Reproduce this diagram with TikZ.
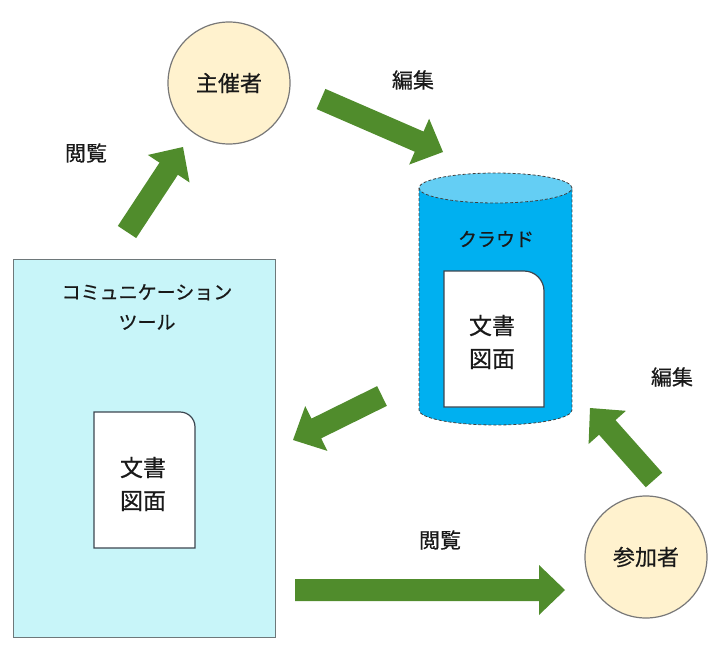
\documentclass[tikz,border=0pt]{standalone}
\usepackage{fontspec}
\setmainfont{Noto Sans CJK JP}[FakeBold=0.6]
\usetikzlibrary{calc}
\definecolor{agreen}{RGB}{80,140,44}
\definecolor{cfill}{RGB}{255,242,206}
\definecolor{cedge}{RGB}{120,120,120}
\definecolor{tfill}{RGB}{200,245,249}
\definecolor{tedge}{RGB}{110,120,122}
\definecolor{cyl}{RGB}{0,176,240}
\definecolor{cyltop}{RGB}{100,206,244}
\definecolor{docedge}{RGB}{60,70,80}
\definecolor{txt}{RGB}{25,25,25}
\newcommand\blockarrow[2]{%
  \coordinate (ba-h) at ($(#2)!26pt!(#1)$);
  \fill[agreen] ($(#1)!11pt!90:(#2)$) -- ($(ba-h)!11pt!-90:(#1)$) -- ($(ba-h)!25pt!-90:(#1)$) -- (#2) -- ($(ba-h)!25pt!90:(#1)$) -- ($(ba-h)!11pt!90:(#1)$) -- ($(#1)!11pt!-90:(#2)$) -- cycle;}
\begin{document}
\begin{tikzpicture}[x=1pt,y=-1pt,
  actor/.style={circle, draw=cedge, line width=1.2pt, fill=cfill, minimum size=122pt, inner sep=0pt, font=\fontsize{22}{26}\selectfont, text=txt},
  lbl/.style={font=\fontsize{21}{25}\selectfont, text=txt},
  doctxt/.style={font=\fontsize{23}{33}\selectfont, text=txt, align=center},
  kata/.style={font=\fontsize{19}{30}\selectfont, text=txt, align=center},
  docshape/.style={draw=docedge, line width=1.2pt, fill=white},
  cyldash/.style={draw=black!75, densely dashed, line width=0.8pt}]
\useasboundingbox (0,0) rectangle (711,647);

% communication tool
\node[draw=tedge, line width=1.2pt, fill=tfill, minimum width=262pt, minimum height=378pt, anchor=north west, inner sep=0pt] (tool) at (13,259) {};
\node[kata] (toollabel) at (147,307) {コミュニケーション\\ツール};
\draw[docshape] (94,548) -- (94,412) -- (180,412) arc[start angle=90, end angle=0, radius=15pt] -- (195,548) -- cycle;
\node[doctxt] (tooldoc) at (143,484) {文書\\図面};

% cloud cylinder
\fill[cyl] (419,188) rectangle (572,410);
\fill[cyl] (495.5,410) ellipse[x radius=76.5pt, y radius=15pt];
\fill[cyltop] (495.5,188) ellipse[x radius=76.5pt, y radius=15pt];
\draw[cyldash] (495.5,188) ellipse[x radius=76.5pt, y radius=15pt];
\draw[cyldash] (419,188) -- (419,410) arc[start angle=180, end angle=360, x radius=76.5pt, y radius=15pt] -- (572,188);
\node[kata] (cloud) at (496,239) {クラウド};
\draw[docshape] (444,407) -- (444,271) -- (524,271) arc[start angle=90, end angle=0, radius=20pt] -- (544,407) -- cycle;
\node[doctxt] (clouddoc) at (492,342) {文書\\図面};

% actors
\node[actor] (host) at (229,83) {主催者};
\node[actor] (guest) at (646,557) {参加者};

% arrows
\coordinate (a1t) at (127,232); \coordinate (a1h) at (183,147);
\coordinate (a2t) at (321,99);  \coordinate (a2h) at (443,152);
\coordinate (a3t) at (382,396); \coordinate (a3h) at (293,440);
\coordinate (a4t) at (295,590); \coordinate (a4h) at (565,590);
\coordinate (a5t) at (654,480); \coordinate (a5h) at (590,408);
\blockarrow{a1t}{a1h}
\blockarrow{a2t}{a2h}
\blockarrow{a3t}{a3h}
\blockarrow{a4t}{a4h}
\blockarrow{a5t}{a5h}

% labels
\node[lbl] (l1) at (86,153) {閲覧};
\node[lbl] (l2) at (413,80) {編集};
\node[lbl] (l3) at (672,377) {編集};
\node[lbl] (l4) at (440,540) {閲覧};
\end{tikzpicture}
\end{document}
